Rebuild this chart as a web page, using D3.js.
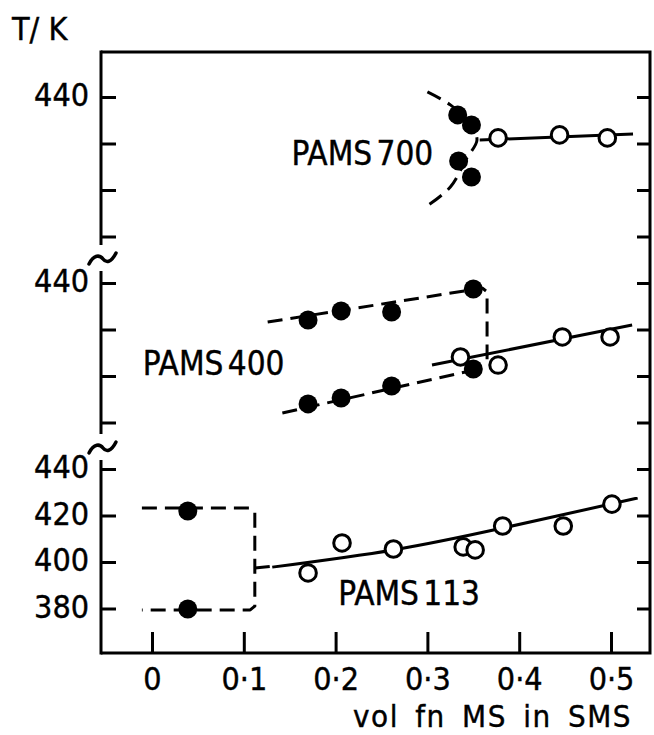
<!DOCTYPE html>
<html>
<head>
<meta charset="utf-8">
<script src="https://cdn.jsdelivr.net/npm/d3@7"></script>
<style>
	body { margin: 0; background: #fff; }
	svg text { font-family: "DejaVu Sans", sans-serif; font-stretch: condensed; fill: #000; stroke: #000; stroke-width: 0.4px; }
</style>
</head>
<body>
<svg id="chart" width="654" height="735"></svg>
<script>

// x ticks and y ticks
var xTicks = [0, 0.1, 0.2, 0.3, 0.4, 0.5];
var yTicks = [380, 400, 420, 440];

// PAMS 700 (top panel)
var p700Filled = [[0.333, 432.3], [0.348, 428.0], [0.334, 412.5], [0.348, 405.6]];
var p700Open = [[0.377, 422.4], [0.444, 423.7], [0.496, 422.4]];
var p700Line = [[0.357, 421.5], [0.524, 424.1]];
var p700Dash = [[0.300, 442.2], [0.325, 436.6], [0.346, 428.8], [0.354, 421.5], [0.343, 413.8], [0.325, 401.3], [0.301, 393.5]];

// PAMS 400 (middle panel)
var p400FilledUp = [[0.170, 424.1], [0.206, 428.0], [0.261, 427.5], [0.350, 437.4]];
var p400FilledLow = [[0.170, 388.0], [0.206, 390.5], [0.261, 395.7], [0.350, 403.0]];
var p400Open = [[0.336, 408.2], [0.377, 404.7], [0.447, 416.8], [0.499, 416.8]];
var p400DashUp = [[0.126, 423.2], [0.360, 437.8], [0.365, 436.2], [0.365, 407.2]];
var p400DashLow = [[0.142, 384.1], [0.360, 403.4]];
var p400Line = [[0.305, 404.7], [0.523, 421.9]];

// PAMS 113 (bottom panel)
var p113Filled = [[0.039, 421.9], [0.039, 379.8]];
var p113Open = [[0.170, 395.3], [0.207, 408.2], [0.263, 405.6], [0.339, 406.5], [0.352, 405.2], [0.382, 415.5], [0.448, 415.5], [0.501, 424.9]];
var p113Box = [[-0.011, 423.2], [0.107, 423.2], [0.112, 421.5], [0.112, 381.0], [0.107, 379.4], [-0.011, 379.4]];
var p113Link = [[0.112, 397.4], [0.134, 398.3]];
var p113Line = [[0.131, 397.8], [0.263, 405.2], [0.382, 414.6], [0.529, 427.5]];

var svg = d3.select('#chart');

var pLeft = 101, pRight = 650, pTop = 52, pBottom = 653;
var step = 46.5;   // px between y ticks

var x = d3.scaleLinear().domain([0, 0.5]).range([152, 611]);

// one y scale per panel, 4 tick steps apart
function panelScale(k){
	var y0 = 97 + k*4*step;
	return d3.scaleLinear().domain([440, 380]).range([y0, y0 + 3*step]);
}
var yTop = panelScale(0), yMid = panelScale(1), yBot = panelScale(2);

var black = '#000';

// frame: top, right and bottom sides
svg.append('path')
	.attr('d', 'M' + pLeft + ',' + pTop + 'H' + pRight + 'V' + pBottom + 'H' + pLeft)
	.attr('fill', 'none')
	.attr('stroke', black)
	.attr('stroke-width', 3);

// left axis, broken in three pieces
var segs = [[pTop - 1.5, 245], [271, 434], [460, pBottom + 1.5]];
svg.selectAll('line.seg')
	.data(segs)
	.enter()
	.append('line')
	.attr('class', 'seg')
	.attr('x1', pLeft).attr('x2', pLeft)
	.attr('y1', function(d){ return d[0]; })
	.attr('y2', function(d){ return d[1]; })
	.attr('stroke', black)
	.attr('stroke-width', 3);

// tildes at the breaks
[259, 448].forEach(function(cy){
	svg.append('path')
		.attr('d', 'M-13,5 C-8,-5 -2,-4 1,0 C4,4 9,4 14,-6')
		.attr('transform', 'translate(' + (pLeft + 1) + ',' + cy + ')')
		.attr('fill', 'none')
		.attr('stroke', black)
		.attr('stroke-width', 3.5)
		.attr('stroke-linecap', 'round');
});

function leftAxis(scale, labelled){
	var ax = d3.axisLeft(scale)
		.tickValues(yTicks)
		.tickSizeInner(-15)
		.tickSizeOuter(0)
		.tickPadding(12)
		.tickFormat(function(d){ return labelled.indexOf(d) >= 0 ? d : ''; });
	var g = svg.append('g')
		.attr('transform', 'translate(' + pLeft + ',0)')
		.call(ax);
	g.select('.domain').remove();
	g.selectAll('.tick line').attr('stroke', black).attr('stroke-width', 3);
	g.selectAll('.tick text')
		.attr('font-size', 32)
		.attr('dy', '0.28em');
	return g;
}
leftAxis(yTop, [440]);
leftAxis(yMid, [440]);
leftAxis(yBot, [380, 400, 420, 440]);

// right axis ticks, continuous
[yTop, yMid, yBot].forEach(function(sc){
	var g = svg.append('g')
		.attr('transform', 'translate(' + pRight + ',0)')
		.call(d3.axisLeft(sc).tickValues(yTicks).tickSizeInner(13).tickSizeOuter(0).tickFormat(''));
	g.select('.domain').remove();
	g.selectAll('.tick line').attr('stroke', black).attr('stroke-width', 3);
});

// x axis, ticks pointing up
var gx = svg.append('g')
	.attr('transform', 'translate(0,' + pBottom + ')')
	.call(d3.axisBottom(x)
		.tickValues(xTicks)
		.tickSizeInner(-21)
		.tickSizeOuter(0)
		.tickPadding(14)
		.tickFormat(function(d){ return d === 0 ? '0' : '0\u00b7' + Math.round(d*10); }));
gx.select('.domain').remove();
gx.selectAll('.tick line').attr('stroke', black).attr('stroke-width', 3);
gx.selectAll('.tick text').attr('font-size', 32);

// axis titles
svg.append('text')
	.attr('x', 12).attr('y', 40)
	.attr('font-size', 32)
	.text('T/ K');

svg.append('text')
	.attr('x', 632).attr('y', 727)
	.attr('text-anchor', 'end')
	.attr('font-size', 31)
	.attr('letter-spacing', 1.5)
	.attr('word-spacing', 6)
	.text('vol fn MS  in SMS');

// drawing helpers
function drawLine(data, sc, dashed, curve){
	var gen = d3.line()
		.x(function(d){ return x(d[0]); })
		.y(function(d){ return sc(d[1]); })
		.curve(curve || d3.curveLinear);
	svg.append('path')
		.datum(data)
		.attr('d', gen)
		.attr('fill', 'none')
		.attr('stroke', black)
		.attr('stroke-width', 3)
		.attr('stroke-linejoin', 'round')
		.attr('stroke-dasharray', dashed ? '15,8' : null);
}

function drawDots(data, sc, filled){
	svg.append('g')
		.selectAll('circle')
		.data(data)
		.enter()
		.append('circle')
		.attr('cx', function(d){ return x(d[0]); })
		.attr('cy', function(d){ return sc(d[1]); })
		.attr('r', filled ? 9.5 : 8.3)
		.style('fill', filled ? black : 'white')
		.style('stroke', black)
		.style('stroke-width', filled ? 0 : 3);
}

function label(txt, xv, yv, sc){
	svg.append('text')
		.attr('x', x(xv))
		.attr('y', sc(yv))
		.attr('font-size', 33)
		.attr('word-spacing', -5)
		.text(txt);
}

// PAMS 700
drawLine(p700Dash, yTop, true, d3.curveCatmullRom);
drawLine(p700Line, yTop, false);
drawDots(p700Filled, yTop, true);
drawDots(p700Open, yTop, false);
label('PAMS 700', 0.152, 410.8, yTop);

// PAMS 400
drawLine(p400DashUp, yMid, true);
drawLine(p400DashLow, yMid, true);
drawLine(p400Line, yMid, false);
drawDots(p400Open, yMid, false);
drawDots(p400FilledUp, yMid, true);
drawDots(p400FilledLow, yMid, true);
label('PAMS 400', -0.010, 400.4, yMid);

// PAMS 113
drawLine(p113Box, yBot, true);
drawLine(p113Link, yBot, true);
drawLine(p113Line, yBot, false, d3.curveNatural);
drawDots(p113Filled, yBot, true);
drawDots(p113Open, yBot, false);
label('PAMS 113', 0.203, 381.5, yBot);

</script>
</body>
</html>
